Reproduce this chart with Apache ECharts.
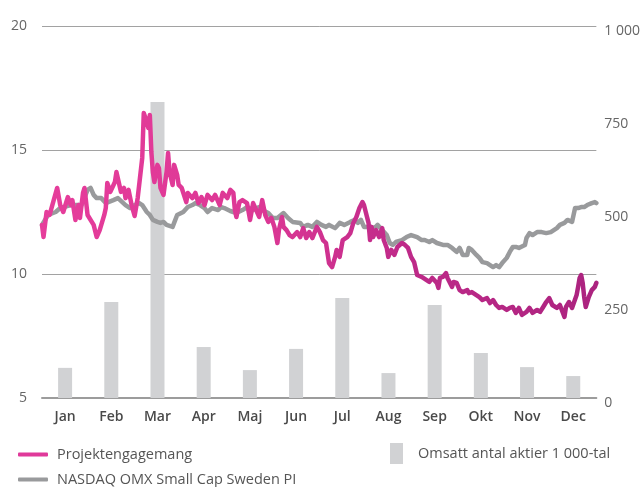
<!DOCTYPE html>
<html>
<head>
<meta charset="utf-8">
<script src="https://cdn.jsdelivr.net/npm/echarts@6/dist/echarts.min.js"></script>
<style>
  html, body { margin: 0; padding: 0; background: #fff; }
  #chart { width: 643px; height: 487px; }
</style>
</head>
<body>
<div id="chart"></div>
<script>
const months = ['Jan', 'Feb', 'Mar', 'Apr', 'Maj', 'Jun', 'Jul', 'Aug', 'Sep', 'Okt', 'Nov', 'Dec']
// traded shares per month, thousands (right axis)
const volume = [81, 258, 796, 137, 75, 132, 269, 67, 250, 121, 83, 59]

// Projektengagemang share price, day of year / SEK
const stockDay = [0, 1, 3, 5, 10, 12, 14, 17, 19, 20, 22, 24, 25, 27, 28, 30, 34, 36, 38, 41, 42, 43, 45, 48, 49, 52, 54, 55, 57, 59,
  61, 63, 66, 67, 69, 70, 71, 72, 73, 74, 76, 77, 78, 80, 82, 83, 84, 86, 87, 89, 90, 92, 95, 96, 99, 101, 103, 105, 107, 109,
  112, 114, 117, 119, 122, 124, 126, 127, 128, 130, 132, 135, 137, 139, 141, 143, 145, 147, 149, 151, 153, 155, 156, 158, 159, 161, 163, 165, 168, 170,
  172, 174, 176, 178, 181, 183, 185, 187, 189, 190, 191, 193, 194, 196, 198, 201, 203, 205, 207, 209, 211, 212, 214, 215, 216, 217, 218, 220, 222, 224,
  225, 227, 228, 230, 232, 234, 237, 239, 241, 243, 245, 247, 250, 253, 255, 257, 260, 261, 262, 264, 266, 267, 268, 270, 271, 273, 275, 277, 280, 281,
  283, 286, 288, 290, 293, 295, 297, 299, 301, 303, 306, 308, 310, 312, 314, 316, 319, 321, 323, 326, 328, 330, 332, 334, 336, 339, 341, 343, 344, 345,
  347, 349, 352, 353, 354, 355, 356, 357, 358, 360, 362, 364, 365]
const stockPrice = [11.98, 11.49, 12.50, 12.38, 13.47, 12.78, 12.50, 13.10, 12.78, 12.98, 12.18, 12.78, 12.26, 13.27, 13.47, 12.38, 11.98, 11.49, 11.77, 12.38, 12.66, 13.67, 13.31, 13.71, 14.11, 13.31, 13.47, 13.06, 13.39, 12.78,
  12.34, 13.06, 14.68, 16.49, 16.13, 15.89, 16.41, 14.92, 14.11, 13.71, 14.40, 14.27, 13.47, 13.19, 14.11, 14.88, 14.11, 13.59, 14.40, 14.00, 13.59, 13.47, 12.90, 13.27, 13.06, 13.27, 12.86, 13.10, 12.78, 13.19,
  12.98, 13.19, 12.78, 13.27, 13.06, 13.39, 13.27, 12.58, 12.30, 12.90, 12.98, 12.86, 12.18, 12.86, 12.58, 12.30, 12.98, 12.38, 12.10, 12.26, 11.90, 11.25, 11.77, 12.30, 11.90, 11.77, 11.57, 11.49, 11.69, 11.49,
  11.85, 11.45, 11.69, 11.45, 11.90, 11.69, 11.37, 11.25, 10.44, 10.44, 10.28, 10.69, 10.97, 10.69, 11.37, 11.49, 11.65, 12.06, 12.30, 12.66, 12.90, 12.78, 12.30, 12.06, 11.37, 11.90, 11.49, 11.77, 11.49, 11.85,
  11.37, 11.05, 10.69, 10.97, 10.77, 11.09, 11.25, 11.17, 11.05, 10.69, 10.48, 9.96, 9.88, 9.76, 9.68, 9.84, 9.64, 9.44, 9.84, 9.88, 10.04, 9.84, 9.76, 9.48, 9.68, 9.64, 9.35, 9.27, 9.35, 9.23,
  9.27, 9.15, 9.07, 8.95, 9.03, 8.83, 8.95, 8.75, 8.63, 8.67, 8.55, 8.63, 8.67, 8.43, 8.63, 8.35, 8.47, 8.63, 8.43, 8.55, 8.47, 8.67, 8.87, 9.03, 8.75, 8.63, 8.75, 8.43, 8.27, 8.67,
  8.87, 8.63, 9.15, 9.48, 9.84, 9.96, 9.64, 9.07, 8.67, 9.07, 9.35, 9.48, 9.64]

// NASDAQ OMX Small Cap Sweden PI, rebased to the left axis
const indexDay = [0, 4, 9, 12, 19, 26, 30, 32, 34, 36, 39, 42, 47, 50, 55, 58, 61, 64, 66, 69, 71, 73, 76, 78, 80, 82, 86, 87, 89, 93,
  96, 99, 101, 104, 107, 109, 112, 116, 118, 120, 124, 128, 132, 135, 139, 143, 145, 149, 152, 155, 159, 162, 165, 170, 172, 175, 178, 181, 184, 187,
  189, 193, 196, 199, 203, 206, 208, 210, 212, 216, 219, 221, 224, 227, 229, 231, 233, 237, 240, 243, 247, 250, 252, 255, 257, 260, 264, 267, 270, 273,
  275, 277, 280, 281, 283, 286, 288, 290, 293, 295, 297, 299, 301, 303, 306, 308, 310, 312, 314, 318, 319, 321, 323, 326, 329, 332, 335, 339, 341, 344,
  346, 349, 350, 351, 353, 355, 357, 359, 362, 364, 365]
const indexValue = [11.98, 12.38, 12.50, 12.66, 12.78, 12.78, 13.39, 13.47, 13.19, 13.06, 13.06, 12.86, 12.98, 13.06, 12.78, 12.66, 12.78, 12.86, 12.78, 12.50, 12.38, 12.18, 12.10, 12.06, 12.10, 11.98, 11.90, 12.06, 12.38, 12.50,
  12.70, 12.78, 12.86, 12.78, 12.66, 12.50, 12.66, 12.58, 12.70, 12.66, 12.54, 12.46, 12.58, 12.70, 12.58, 12.70, 12.58, 12.46, 12.26, 12.26, 12.46, 12.26, 12.10, 12.06, 11.90, 11.98, 11.90, 12.10, 11.98, 11.90,
  11.98, 11.85, 12.06, 11.98, 12.10, 12.18, 12.06, 12.18, 11.90, 11.90, 11.85, 11.98, 11.77, 11.57, 11.25, 11.17, 11.29, 11.37, 11.49, 11.57, 11.49, 11.37, 11.37, 11.29, 11.37, 11.25, 11.17, 11.17, 11.05, 10.89,
  11.05, 10.77, 10.77, 11.05, 10.97, 10.77, 10.65, 10.48, 10.44, 10.36, 10.28, 10.36, 10.28, 10.44, 10.65, 10.89, 11.09, 11.09, 11.05, 11.17, 11.45, 11.65, 11.57, 11.69, 11.69, 11.65, 11.69, 11.85, 11.98, 12.06,
  12.18, 12.10, 12.38, 12.66, 12.66, 12.70, 12.70, 12.78, 12.86, 12.90, 12.86]

const leftTicks = [5, 10, 15, 20]
const rightTicks = [0, 250, 500, 750, 1000]

const FONT = '"Open Sans", "Noto Sans", sans-serif'
const zip = (xs, ys) => xs.map((x, i) => [x, ys[i]])
const legendText = { fontFamily: FONT, fontSize: 14.5, color: '#555' }

let myChart = echarts.init(document.getElementById('chart'))
myChart.setOption({
  animation: false,
  textStyle: { fontFamily: FONT },
  grid: { left: 42, right: 46, top: 26, bottom: 89 },
  legend: [
    {
      left: 13, top: 442, itemWidth: 30, itemHeight: 4, icon: 'roundRect',
      textStyle: Object.assign({ padding: [0, 0, 0, 4] }, legendText),
      data: [{ name: 'Projektengagemang', itemStyle: { color: '#e0399a' } }]
    },
    {
      left: 13, top: 467, itemWidth: 30, itemHeight: 4, icon: 'roundRect',
      textStyle: Object.assign({ padding: [0, 0, 0, 4] }, legendText),
      data: [{ name: 'NASDAQ OMX Small Cap Sweden PI', itemStyle: { color: '#999a9c' } }]
    },
    {
      left: 385, top: 438, itemWidth: 13, itemHeight: 21, icon: 'rect',
      textStyle: Object.assign({ padding: [0, 0, 0, 10] }, legendText),
      data: ['Omsatt antal aktier 1 000-tal']
    }
  ],
  xAxis: [
    {
      type: 'category', data: months,
      axisLine: { show: true, lineStyle: { color: '#9c9c9c', width: 2 } },
      axisTick: { show: false },
      axisLabel: { color: '#4a4a4a', fontSize: 14, fontWeight: 600, margin: 12, fontFamily: FONT }
    },
    { type: 'value', min: 0, max: 365, show: false }
  ],
  yAxis: [
    {
      type: 'value', min: leftTicks[0], max: leftTicks[leftTicks.length - 1], interval: 5,
      axisLine: { show: false }, axisTick: { show: false },
      axisLabel: { color: '#666', fontSize: 14, margin: 15, fontFamily: FONT },
      splitLine: { lineStyle: { color: '#a2a2a2', width: 1 } }
    },
    {
      type: 'value', min: rightTicks[0], max: rightTicks[rightTicks.length - 1], interval: 250,
      axisLine: { show: false }, axisTick: { show: false }, splitLine: { show: false },
      axisLabel: {
        color: '#666', fontSize: 14, margin: 8, fontFamily: FONT,
        verticalAlign: 'top', lineHeight: 10,
        formatter: v => v >= 1000 ? Math.floor(v / 1000) + ' ' + String(v % 1000).padStart(3, '0') : String(v)
      }
    }
  ],
  series: [
    {
      name: 'Omsatt antal aktier 1 000-tal', type: 'bar',
      xAxisIndex: 0, yAxisIndex: 1, barWidth: 14,
      itemStyle: { color: '#d1d2d4' },
      data: volume
    },
    {
      name: 'NASDAQ OMX Small Cap Sweden PI', type: 'line',
      xAxisIndex: 1, yAxisIndex: 0, showSymbol: false,
      itemStyle: { color: '#999a9c' },
      lineStyle: { color: '#999a9c', width: 4.5, cap: 'round', join: 'round' },
      data: zip(indexDay, indexValue)
    },
    {
      name: 'Projektengagemang', type: 'line',
      xAxisIndex: 1, yAxisIndex: 0, showSymbol: false,
      itemStyle: { color: '#e0399a' },
      lineStyle: {
        width: 4.5, cap: 'round', join: 'round',
        color: new echarts.graphic.LinearGradient(0, 0, 1, 0, [
          { offset: 0, color: '#e63d9b' },
          { offset: 0.4, color: '#dc3795' },
          { offset: 0.65, color: '#bf2a89' },
          { offset: 1, color: '#ab237f' }
        ])
      },
      data: zip(stockDay, stockPrice)
    }
  ]
})
</script>
</body>
</html>
